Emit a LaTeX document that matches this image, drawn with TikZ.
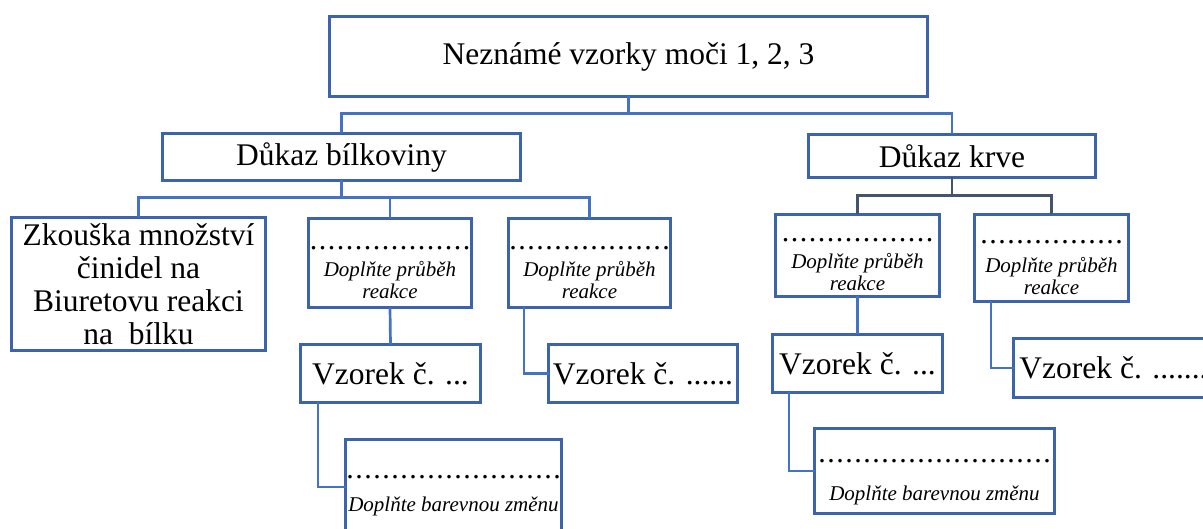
\documentclass[tikz,border=0pt]{standalone}
\usepackage{fontspec}
\setmainfont{Liberation Serif}
\definecolor{boxblue}{HTML}{4472C4}
\definecolor{krveline}{HTML}{44546A}
% row of dots to fill in: #1 width, #2 height above the dots
\newcommand{\tecky}[2]{{\upshape\fontsize{30}{22}\selectfont\rule{0pt}{#2}\makebox[#1]{\xleaders\hbox to 9pt{\hss.\hss}\hfill}}}

\begin{document}
\begin{tikzpicture}[x=1pt, y=-1pt,
    box/.style={draw=boxblue!88!black, line width=2.8pt,
                fill=white, rectangle, inner sep=0pt, outer sep=0pt, align=center},
    big/.style={font=\fontsize{31.5}{33}\selectfont},
    hint/.style={font=\fontsize{21}{22}\selectfont\itshape},
    link/.style={draw=boxblue, line width=2.7pt},
    linkdark/.style={draw=krveline, line width=2.7pt}]

\useasboundingbox (0,0) rectangle (1203,529);
\clip (0,0) rectangle (1203,529);

    % Nodes, top and second level
    \node[box, big, minimum width=598, minimum height=80] (vzorky) at (628.5,56.5) {Neznámé vzorky moči 1, 2, 3};
    \node[box, big, minimum width=358, minimum height=47] (bilk) at (341.5,157) {Důkaz bílkoviny};
    \node[box, big, minimum width=287, minimum height=43] (krve) at (952,156) {Důkaz krve};

    % Nodes under protein test
    \node[box, big, minimum width=254, minimum height=133] (zkouska) at (138.5,284) {Zkouška množství\\činidel na\\Biuretovu reakci\\na\ \ bílku};
    \node[box, hint, minimum width=163, minimum height=89] (reakce1) at (390,263) {\tecky{162pt}{22.5pt}\\[4.5pt]Doplňte průběh\\reakce};
    \node[box, hint, minimum width=162, minimum height=89] (reakce2) at (589.5,263) {\tecky{162pt}{22.5pt}\\[4.5pt]Doplňte průběh\\reakce};
    \node[box, big, minimum width=180, minimum height=58] (vzorek1) at (390.5,373.5) {Vzorek č. ...};
    \node[box, big, minimum width=189, minimum height=58] (vzorek2) at (643,373.5) {Vzorek č. ......};
    \node[box, hint, minimum width=216, minimum height=95] (zmena1) at (453.5,487) {\tecky{216pt}{19.5pt}\\[11pt]Doplňte barevnou změnu};

    % Nodes under blood test
    \node[box, hint, minimum width=164, minimum height=82] (krve1) at (857.5,255.5) {\tecky{153pt}{20.5pt}\\[5pt]Doplňte průběh\\reakce};
    \node[box, hint, minimum width=154, minimum height=87] (krve2) at (1051.5,258) {\tecky{144pt}{21.5pt}\\[7pt]Doplňte průběh\\reakce};
    \node[box, big, minimum width=170, minimum height=58] (vzorek3) at (857.5,363.5) {Vzorek č. ...};
    \node[box, big, minimum width=200, minimum height=59] (vzorek4) at (1113.5,368) {Vzorek č. .......};
    \node[box, hint, minimum width=240, minimum height=85] (zmena2) at (934.5,471) {\tecky{234pt}{24.5pt}\\[16pt]Doplňte barevnou změnu};

    % Connectors
    \draw[link] (vzorky.south) -- ++(0,17) -| (bilk.north);
    \draw[link] (vzorky.south) -- ++(0,17) -| (krve.north);
    \draw[link] (bilk.south) -- ++(0,17) -| (zkouska.north);
    \draw[link] (bilk.south) -- ++(0,17) -| (reakce1.north);
    \draw[link] (bilk.south) -- ++(0,17) -| (reakce2.north);
    \draw[linkdark] (krve.south) -- ++(0,18) -| (krve1.north);
    \draw[linkdark] (krve.south) -- ++(0,18) -| (krve2.north);
    \draw[link] (reakce1.south) -- (vzorek1.north);
    \draw[link] ([xshift=-65.5pt]reakce2.south) |- (vzorek2.west);
    \draw[link] (krve1.south) -- (vzorek3.north);
    \draw[link] ([xshift=-60.5pt]krve2.south) |- (vzorek4.west);
    \draw[link] ([xshift=-72.5pt]vzorek1.south) |- (zmena1.west);
    \draw[link] ([xshift=-68.5pt]vzorek3.south) |- (zmena2.west);

\end{tikzpicture}
\end{document}
